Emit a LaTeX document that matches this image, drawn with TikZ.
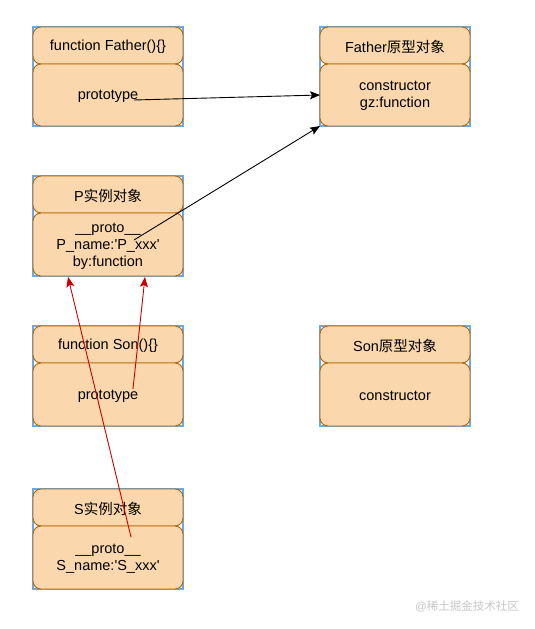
\documentclass[tikz,border=0pt]{standalone}
\usepackage{fontspec}
\setmainfont{Liberation Sans}
\newfontfamily\cjk{Noto Sans CJK SC}
\usetikzlibrary{arrows.meta}
\definecolor{boxfill}{HTML}{FAD7AC}
\definecolor{boxdraw}{HTML}{B46504}
\definecolor{cornerblue}{HTML}{6FA8DC}
\definecolor{arrred}{HTML}{CC0000}
\tikzset{
  container/.style={draw=cornerblue, line width=1.2pt},
  part/.style={draw=boxdraw, fill=boxfill, rounded corners=8pt, line width=0.9pt},
  lbl/.style={font=\fontsize{14.5}{17}\selectfont, align=center, inner sep=0pt},
  blackarrow/.style={draw=black, line width=0.9pt, -{Stealth[length=10pt,width=8pt,inset=2pt]}},
  redarrow/.style={draw=arrred, line width=0.9pt, -{Stealth[length=10pt,width=8pt,inset=2pt]}},
}
\newcommand{\q}{\textquotesingle}
\newcommand{\umlbox}[6]{%
  % #1 name, #2 x left, #3 y top, #4 y split, #5 y bottom, #6 header text
  \path[container] (#2,#3) rectangle (#2+150,#5);
  \path[part] (#2,#3) rectangle (#2+150,#4);
  \path[part] (#2,#4) rectangle (#2+150,#5);
  \node[lbl] (#1h) at (#2+75,{(#3+#4)/2+1}) {#6};
}
\begin{document}
\begin{tikzpicture}[x=1pt,y=-1pt]
\useasboundingbox (0,0) rectangle (535,629);
\fill[white] (0,0) rectangle (535,629);

\umlbox{father}{33}{27}{64}{126}{function Father()\{\}}
\node[lbl] (fatherb) at (108,96) {prototype};

\umlbox{fproto}{320}{27}{64}{126}{Father{\cjk 原型对象}}
\node[lbl] (fprotob) at (395,96) {constructor\\gz:function};

\umlbox{p}{33}{176}{213}{276}{P{\cjk 实例对象}}
\node[lbl] (pb) at (108,246) {\_\_proto\_\_\\P\_name:\q P\_xxx\q\\by:function};

\umlbox{son}{33}{326}{363}{426}{function Son()\{\}}
\node[lbl] (sonb) at (108,396) {prototype};

\umlbox{sproto}{320}{326}{363}{426}{Son{\cjk 原型对象}}
\node[lbl] (sprotob) at (395,396) {constructor};

\umlbox{s}{33}{489}{526}{589}{S{\cjk 实例对象}}
\node[lbl] (sb) at (108,559) {\_\_proto\_\_\\S\_name:\q S\_xxx\q};

\coordinate (a1s) at (134,100);
\coordinate (a1e) at (320,95);
\coordinate (a2s) at (134,240);
\coordinate (a2e) at (320,126);
\coordinate (r1s) at (133,389);
\coordinate (r1e) at (145,277);
\coordinate (r2s) at (131,537);
\coordinate (r2e) at (68,277);

\draw[blackarrow] (a1s) -- (a1e);
\draw[blackarrow] (a2s) -- (a2e);
\draw[redarrow] (r1s) -- (r1e);
\draw[redarrow] (r2s) -- (r2e);

\node[font=\fontsize{11.5}{13}\selectfont, text=black!22, inner sep=0pt] (wm) at (467,606) {@{\cjk 稀土掘金技术社区}};
\end{tikzpicture}
\end{document}
